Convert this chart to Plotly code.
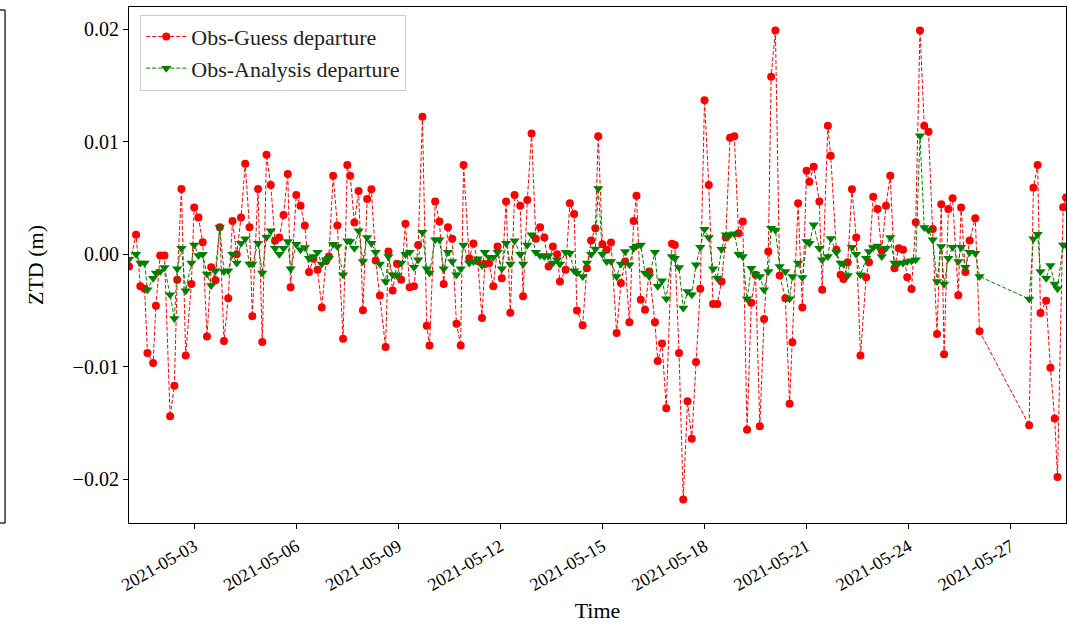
import pandas as pd
import plotly.graph_objects as go

# Analysis cycle times, in hours after the first cycle start
START = pd.Timestamp("2021-05-01 01:00")
cycle_hours = [
    1, 6, 9, 12, 14, 18, 20, 23, 26, 30,
    33, 35, 38, 41, 45, 47, 50, 53, 56, 59,
    62, 65, 68, 71, 74, 77, 80, 83, 86, 88,
    92, 95, 98, 101, 104, 107, 110, 113, 115, 119,
    122, 125, 128, 131, 134, 137, 140, 142, 145, 148,
    152, 155, 157, 160, 163, 166, 169, 172, 175, 178,
    182, 184, 187, 190, 193, 196, 199, 202, 205, 208,
    211, 213, 217, 220, 223, 226, 229, 232, 235, 237,
    241, 244, 247, 250, 252, 255, 258, 261, 264, 267,
    270, 273, 277, 279, 282, 285, 288, 291, 294, 297,
    300, 303, 305, 309, 312, 315, 317, 321, 324, 327,
    330, 332, 335, 338, 341, 345, 348, 351, 354, 357,
    359, 362, 365, 368, 372, 374, 377, 380, 384, 386,
    389, 392, 395, 398, 401, 404, 407, 410, 413, 416,
    419, 422, 425, 428, 431, 434, 437, 440, 443, 446,
    449, 452, 454, 457, 460, 464, 467, 469, 473, 476,
    479, 481, 484, 488, 490, 494, 496, 500, 503, 505,
    508, 511, 514, 517, 521, 523, 526, 529, 532, 535,
    538, 541, 544, 547, 550, 553, 556, 559, 562, 565,
    568, 571, 574, 576, 579, 582, 586, 588, 591, 594,
    598, 601, 636, 639, 642, 644, 648, 651, 654, 656,
    660, 662,
]

# Observation minus background (first guess), metres
omb = [
    -0.00108, 0.00173, -0.00285, -0.00306, -0.00877, -0.00966, -0.00457, -0.0001, -0.0001, -0.0144,
    -0.0117, -0.00226, 0.0058, -0.0090, -0.00265, 0.00416, 0.00327, 0.00108, -0.0073, -0.00114,
    -0.0023, 0.0024, -0.0077, -0.0039, 0.00297, 0.0, 0.00327, 0.00806, 0.0024, -0.0055,
    0.0058, -0.0078, 0.00886, 0.00617, 0.0012, 0.00149, 0.0035, 0.00714, -0.00294, 0.00528,
    0.00433, 0.00256, -0.00158, -0.0004, -0.00138, -0.00472, -0.0006, -0.0002, 0.0070, 0.00256,
    -0.0075, 0.00794, 0.0070, 0.00283, 0.00564, -0.00498, 0.00493, 0.00578, -0.00055, -0.00366,
    -0.00824, 0.00025, -0.00322, -0.00084, -0.00226, 0.00271, -0.00294, -0.00285, 0.00084, 0.01223,
    -0.00635, -0.0081, 0.00469, 0.00291, -0.00265, 0.00241, 0.00138, -0.00617, -0.0081, 0.00794,
    -0.00034, 0.00096, -0.0006, -0.00566, -0.00087, -0.0008, -0.00285, 0.0007, -0.00212, 0.00469,
    -0.0052, 0.00528, 0.00433, -0.00374, 0.00484, 0.01075, 0.00138, 0.00241, 0.00149, -0.00108,
    0.0007, 0.0, -0.00241, -0.00138, 0.00454, 0.00359, -0.00499, -0.00631, -0.00123, 0.00123,
    0.00232, 0.0105, 0.0009, 0.0004, 0.00105, -0.0070, -0.00256, -0.00064, -0.00605, 0.00297,
    0.00522, -0.00404, -0.00493, -0.00152, -0.00605, -0.0095, -0.00794, -0.0137, 0.00093, 0.00084,
    -0.00877, -0.0218, -0.01306, -0.0164, -0.00957, -0.00306, 0.0137, 0.00617, -0.00442, -0.00442,
    -0.00241, 0.0015, 0.01037, 0.0105, 0.00188, 0.00291, -0.0156, -0.0043, -0.00182, -0.0153,
    -0.00575, 0.00025, 0.0158, 0.0199, -0.00188, -0.0039, -0.0133, -0.00782, 0.00454, -0.00472,
    0.00744, 0.00646, 0.0078, 0.00469, -0.00315, 0.01143, 0.00877, 0.0004, -0.00182, -0.0022,
    -0.0007, 0.00578, 0.00149, -0.0090, -0.00203, -0.0007, 0.00513, 0.00404, 0.00031, 0.00433,
    0.0070, -0.00123, 0.00055, 0.0004, -0.00203, -0.00309, 0.00285, 0.0199, 0.01143, 0.0109,
    0.00226, -0.00709, 0.00445, -0.00888, 0.00404, 0.00499, -0.00365, 0.00416, -0.00158, 0.00123,
    0.00321, -0.00685, -0.0152, 0.00593, 0.00794, -0.00522, -0.00413, -0.0101, -0.0146, -0.0198,
    0.00419, 0.00505,
]

# Observation minus analysis, metres
oma = [
    -0.00043, 0.0, -0.00078, -0.00078, -0.00315, -0.00212, -0.00167, -0.00152, -0.00117, -0.00359,
    -0.00572, -0.00129, 0.00055, -0.00324, -0.00078, 0.00084, -0.0001, 0.0, -0.00176, -0.00277,
    -0.00146, 0.0024, -0.00152, -0.00146, 0.0, -0.00078, 0.00099, 0.00138, -0.00087, -0.00087,
    0.00099, -0.00167, 0.00152, 0.00209, 0.00055, 0.0, 0.00055, 0.00114, -0.00129, 0.0009,
    0.0004, 0.0006, -0.00034, -0.00019, 0.00019, -0.00087, -0.00049, -0.00034, 0.0009, 0.0007,
    -0.00182, 0.0012, 0.00114, 0.00055, 0.00209, -0.00064, 0.00149, 0.00099, 0.00019, -0.00087,
    -0.00241, -0.00019, -0.00182, -0.00188, -0.00078, 0.0, 0.00019, -0.00114, -0.00049, 0.00197,
    -0.00129, -0.00167, 0.00129, 0.00129, -0.00129, 0.00019, -0.00064, -0.00182, -0.00129, 0.00084,
    -0.00078, -0.00064, -0.0004, -0.001, 0.00019, -0.00025, -0.00025, 0.00019, -0.00129, 0.00099,
    -0.00087, 0.0012, 0.0, -0.00087, 0.00084, 0.00173, 0.00019, -0.0001, -0.00019, -0.0001,
    -0.00078, -0.00049, -0.00087, 0.00019, 0.0001, -0.00146, -0.00167, -0.00197, -0.00078, 0.0,
    0.00047, 0.00585, 0.0, -0.00064, -0.00064, -0.00197, -0.00087, 0.00025, -0.00093, 0.00055,
    0.00075, 0.00084, -0.00167, -0.00197, 0.00019, -0.00285, -0.00235, -0.00395, -0.00019, -0.00034,
    -0.00117, -0.00478, -0.0033, -0.00359, -0.00093, 0.00064, 0.00223, 0.00149, -0.00129, -0.00212,
    0.00046, 0.00173, 0.00173, 0.00182, 0.0, -0.00019, -0.00395, -0.00123, -0.00176, -0.00197,
    -0.00315, -0.00152, 0.00232, 0.00217, -0.00108, -0.00152, -0.00395, -0.00197, -0.00078, -0.00206,
    0.00114, 0.00099, 0.00262, 0.00055, -0.00049, -0.0002, 0.0014, 0.00019, -0.00078, -0.00087,
    -0.00188, 0.00064, 0.0, -0.00182, -0.00034, 0.00025, 0.0006, 0.00075, -0.00019, 0.00055,
    0.00149, -0.00078, -0.00078, -0.00078, -0.00064, -0.00058, -0.00049, 0.01055, 0.00238, 0.00217,
    0.00129, -0.00241, 0.0007, -0.00265, -0.00034, 0.00064, -0.00064, 0.00064, -0.00114, 0.00019,
    0.0001, -0.00197, -0.00398, 0.00138, 0.00179, -0.00152, -0.00212, -0.00099, -0.00265, -0.00306,
    0.00084, 0.00084,
]

times = START + pd.to_timedelta(cycle_hours, unit="h")

FONT = "Liberation Serif"

fig = go.Figure()
fig.add_trace(go.Scatter(
    x=times, y=omb, mode="lines+markers", name="Obs-Guess departure",
    line=dict(color="#ff0000", width=1, dash="4px,2px"),
    marker=dict(symbol="circle", size=8, color="#ff0000"),
))
fig.add_trace(go.Scatter(
    x=times, y=oma, mode="lines+markers", name="Obs-Analysis departure",
    line=dict(color="#008000", width=1, dash="4px,2px"),
    marker=dict(symbol="triangle-down", size=9, color="#008000"),
))

axis_common = dict(
    showline=True, mirror=True, linecolor="black", linewidth=1.2,
    ticks="outside", ticklen=5, tickwidth=1, tickcolor="black",
    showgrid=False, zeroline=False,
)

fig.update_xaxes(
    **axis_common,
    type="date",
    range=[times[0], times[-1]],
    tickmode="linear", tick0="2021-05-03", dtick=3 * 24 * 3600 * 1000,
    tickformat="%Y-%m-%d", tickangle=-30,
    tickfont=dict(family=FONT, size=18, color="black"),
    title=dict(text="Time", font=dict(family=FONT, size=22, color="black"), standoff=8),
)
fig.update_yaxes(
    **axis_common,
    range=[-0.0239, 0.0220],
    tickmode="array", tickvals=[-0.02, -0.01, 0.0, 0.01, 0.02],
    ticktext=["\u22120.02", "\u22120.01", "0.00", "0.01", "0.02"],
    tickfont=dict(family=FONT, size=20, color="black"),
    title=dict(text="ZTD (m)", font=dict(family=FONT, size=22, color="black"), standoff=22),
)

# Edge of the neighbouring panel on the left
for x0, y0, x1, y1 in [(-0.1323, 0.0, -0.1323, 0.9942), (-0.14, 0.9942, -0.1323, 0.9942), (-0.14, 0.0, -0.1323, 0.0)]:
    fig.add_shape(type="line", xref="paper", yref="paper", x0=x0, y0=y0, x1=x1, y1=y1,
                  line=dict(color="black", width=1.2))

fig.update_layout(
    width=1068, height=624,
    margin=dict(l=129, r=2, t=7, b=101),
    paper_bgcolor="white", plot_bgcolor="white",
    font=dict(family=FONT, color="black"),
    legend=dict(
        x=0.012, y=0.985, xanchor="left", yanchor="top",
        bgcolor="rgba(255,255,255,0.85)", bordercolor="#cccccc", borderwidth=1,
        font=dict(family=FONT, size=22, color="#222222"),
        itemwidth=40,
    ),
)

fig.write_html("out.html")
